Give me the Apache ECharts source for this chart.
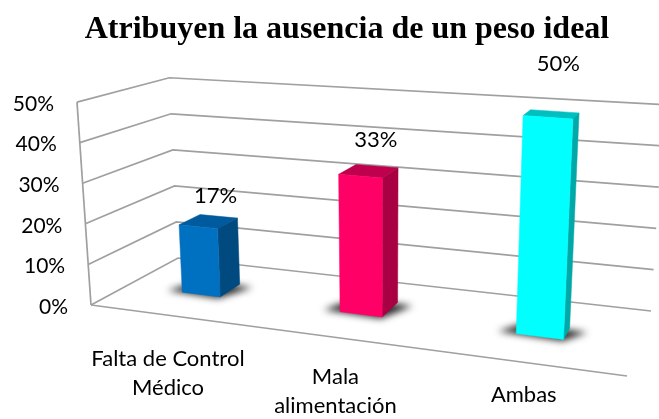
<!DOCTYPE html>
<html>
<head>
<meta charset="utf-8">
<title>Atribuyen la ausencia de un peso ideal</title>
<script src="https://cdn.jsdelivr.net/npm/echarts@6/dist/echarts.min.js"></script>
<style>
  html, body { margin: 0; padding: 0; background: #fff; }
  #main { width: 659px; height: 419px; }
</style>
</head>
<body>
<div id="main"></div>
<script>
const categories = ['Falta de Control\nMédico', 'Mala\nalimentación', 'Ambas']
const values = [17, 33, 50]
const ticks = [0, 10, 20, 30, 40, 50]

const frontColors = ['#0070c0', '#ff0066', '#00ffff']
const sideColors = ['#004a80', '#a80043', '#00a8a8']
const topColors = ['#005a9e', '#bf004c', '#00bfbf']

// how far the labels sit from their anchor, moved by hand in the original
const valueLabelLift = [26, 31, 50]
const categoryLabelDrop = [43, 39, 32]

// floor corners as seen in the picture: back left, back right, front right, front left
const floorQuad = [[178, 258], [651, 311], [627, 376], [91, 305]]
// the uprights all run towards this point far below the picture
const vanishing = [384, 4550]
// scale from that point which lifts a floor corner up to the 50% plane (same corner order)
const liftScale = [1.042, 1.0487, 1.0562, 1.0478]
// where each bar's back face stands on the floor, 0 = back wall, 1 = front edge
const barBack = [0.36, 0.35, 0.44]
const barFront = 0.615

const gridColor = '#a0a0a0'
const textFont = 'Lato'

function makeWarp(q) {
  const [[x0, y0], [x1, y1], [x2, y2], [x3, y3]] = q
  const dx1 = x1 - x2, dx2 = x3 - x2, sx = x0 - x1 + x2 - x3
  const dy1 = y1 - y2, dy2 = y3 - y2, sy = y0 - y1 + y2 - y3
  const den = dx1 * dy2 - dx2 * dy1
  const g = (sx * dy2 - dx2 * sy) / den
  const h = (dx1 * sy - sx * dy1) / den
  const a = x1 - x0 + g * x1, b = x3 - x0 + h * x3
  const d = y1 - y0 + g * y1, e = y3 - y0 + h * y3
  return (u, w) => {
    const n = g * u + h * w + 1
    return [(a * u + b * w + x0) / n, (d * u + e * w + y0) / n]
  }
}
const floorWarp = makeWarp(floorQuad)

// u along the categories, v up the value axis, w from back wall to front
function project(u, v, w) {
  const p = floorWarp(u, w)
  const k = (1 - u) * ((1 - w) * liftScale[0] + w * liftScale[3]) + u * ((1 - w) * liftScale[1] + w * liftScale[2])
  const s = 1 + (k - 1) * v
  return [vanishing[0] + (p[0] - vanishing[0]) * s, vanishing[1] + (p[1] - vanishing[1]) * s]
}

// axis position in the hidden grid -> 0..1 inside the box
function toUnit(params, api, cat, val) {
  const c = params.coordSys
  const pt = api.coord([cat, val])
  return [(pt[0] - c.x) / c.width, (c.y + c.height - pt[1]) / c.height]
}

function line(points, width) {
  return {
    type: 'polyline',
    shape: { points },
    style: { stroke: gridColor, lineWidth: width || 1.7, fill: null },
    silent: true,
  }
}

function renderFrame(params, api) {
  const v = toUnit(params, api, 0, api.value(0))[1]
  const children = [
    line([project(0, v, 1), project(0, v, 0), project(1, v, 0)]),
    {
      type: 'text',
      style: {
        text: api.value(0) + '%',
        x: project(0, v, 1)[0] - 23,
        y: project(0, v, 1)[1] + 2,
        align: 'right',
        verticalAlign: 'middle',
        fontFamily: textFont,
        fontSize: 21,
        fill: '#000',
      },
    },
  ]
  if (api.value(0) === 0) {
    children.push(line([project(0, 0, 1), project(1, 0, 1)]))
    children.push(line([project(0, 0, 1), project(0, 1, 1)]))
  }
  return { type: 'group', children }
}

function renderBar(params, api) {
  const i = api.value(0)
  const [u, v] = toUnit(params, api, i, api.value(1))
  const half = api.size([1, 0])[0] / params.coordSys.width / 8
  const l = u - half, r = u + half
  const back = barBack[i], front = barFront
  const poly = (points, fill) => ({
    type: 'polygon',
    shape: { points },
    style: { fill, stroke: fill, lineWidth: 0.5 },
  })
  const pad = 0.033
  // drawn off the page so that only its blurred shadow lands on the floor
  const away = 1000
  const shadow = {
    type: 'polygon',
    shape: {
      points: [
        project(l - pad, 0, front),
        project(r, 0, front + 0.025),
        project(r + pad, 0, back + 0.03),
        project(l, 0, back + 0.01),
      ].map(p => [p[0] - away, p[1]]),
    },
    style: { fill: '#333', shadowBlur: 7, shadowOffsetX: away, shadowColor: 'rgba(40,40,40,1)' },
  }
  return {
    type: 'group',
    children: [
      shadow,
      poly([project(l, v, front), project(r, v, front), project(r, v, back), project(l, v, back)], topColors[i]),
      poly([project(r, 0, front), project(r, 0, back), project(r, v, back), project(r, v, front)], sideColors[i]),
      poly([project(l, 0, front), project(r, 0, front), project(r, v, front), project(l, v, front)], frontColors[i]),
      {
        type: 'text',
        style: {
          text: api.value(1) + '%',
          x: project(u, v, (front + back) / 2)[0] + 7,
          y: project(u, v, (front + back) / 2)[1] - valueLabelLift[i],
          align: 'center',
          verticalAlign: 'middle',
          fontFamily: textFont,
          fontSize: 22,
          fill: '#000',
        },
      },
    ],
  }
}

function renderCategory(params, api) {
  const i = api.value(0)
  const u = toUnit(params, api, i, 0)[0]
  const p = project(u, 0, 1)
  return {
    type: 'text',
    style: {
      text: categories[i],
      x: p[0],
      y: p[1] + categoryLabelDrop[i] - 14,
      align: 'center',
      verticalAlign: 'top',
      lineHeight: 29,
      fontFamily: textFont,
      fontSize: 22,
      fill: '#000',
    },
  }
}

const chart = echarts.init(document.getElementById('main'))
chart.setOption({
  animation: false,
  title: {
    text: 'Atribuyen la ausencia de un peso ideal',
    left: 342,
    top: 9,
    textAlign: 'center',
    textStyle: { fontFamily: 'Liberation Serif', fontWeight: 'bold', fontSize: 32, color: '#000' },
  },
  grid: { left: 0, right: 0, top: 0, bottom: 0 },
  xAxis: { type: 'category', data: categories, show: false },
  yAxis: { type: 'value', min: 0, max: 50, interval: 10, show: false },
  series: [
    { type: 'custom', clip: false, renderItem: renderFrame, data: ticks.map(t => [t]), encode: { x: -1, y: 0 }, z: 1 },
    { type: 'custom', clip: false, renderItem: renderBar, data: values.map((val, i) => [i, val]), encode: { x: 0, y: 1 }, z: 2 },
    { type: 'custom', clip: false, renderItem: renderCategory, data: categories.map((c, i) => [i]), encode: { x: 0, y: -1 }, z: 3 },
  ],
})
</script>
</body>
</html>
